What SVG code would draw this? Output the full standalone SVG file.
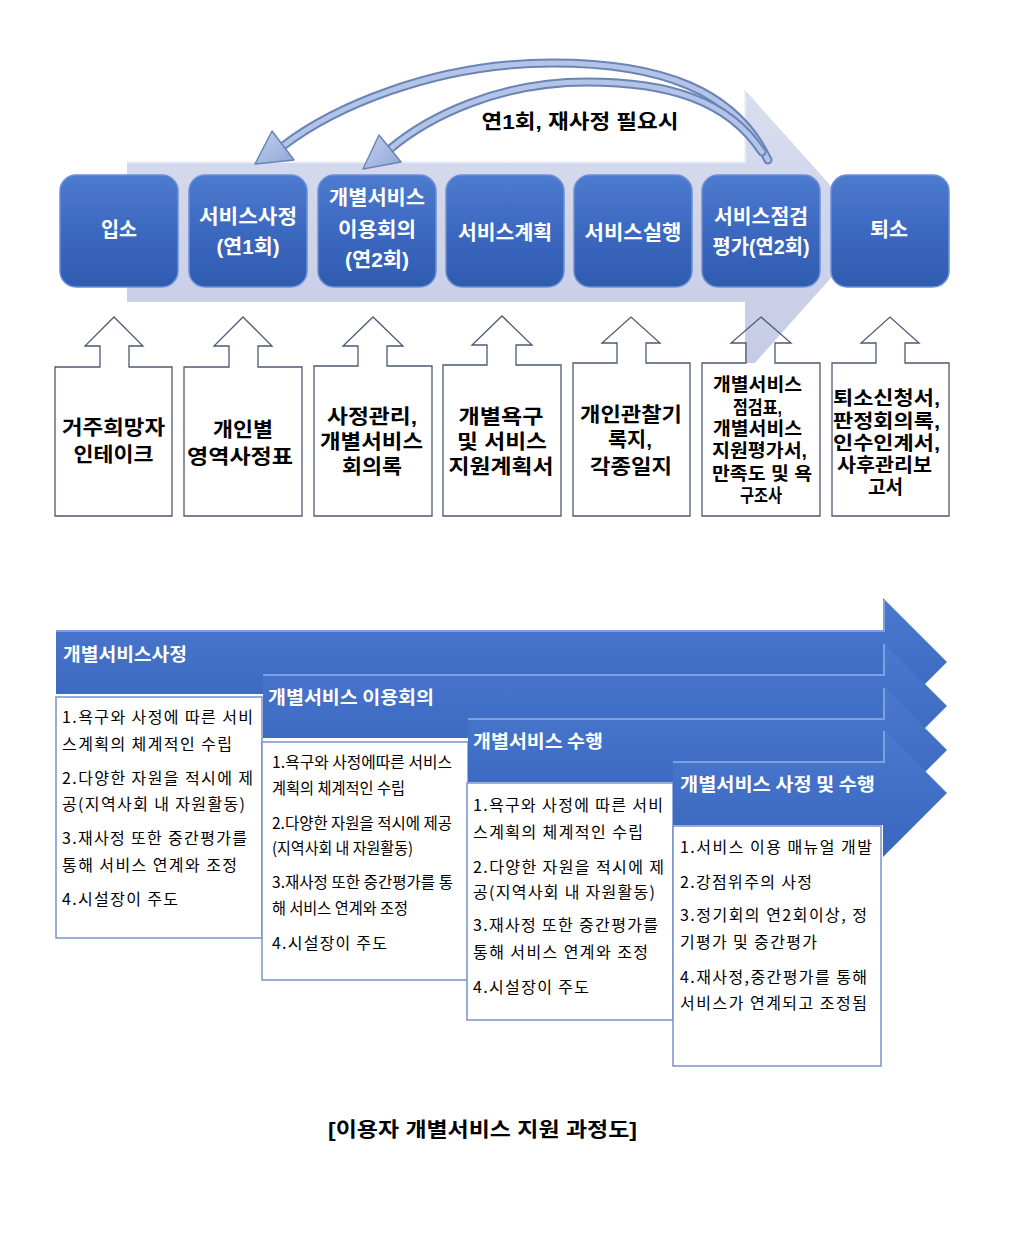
<svg xmlns="http://www.w3.org/2000/svg" width="1024" height="1242" viewBox="0 0 1024 1242">
<defs>
<linearGradient id="bigArrow" x1="0" y1="0" x2="0" y2="1">
<stop offset="0" stop-color="#d9ddef"/>
<stop offset="1" stop-color="#c5cbe5"/>
</linearGradient>
<linearGradient id="boxBlue" x1="0" y1="0" x2="0" y2="1">
<stop offset="0" stop-color="#4d7bcf"/>
<stop offset="0.5" stop-color="#3c69c0"/>
<stop offset="1" stop-color="#2f5bb0"/>
</linearGradient>
<linearGradient id="chev" x1="0" y1="0" x2="0" y2="1">
<stop offset="0" stop-color="#4a79cf"/>
<stop offset="1" stop-color="#3866bd"/>
</linearGradient>
<linearGradient id="head" x1="0" y1="0" x2="1" y2="1">
<stop offset="0" stop-color="#c3d1ee"/>
<stop offset="1" stop-color="#8ea6d6"/>
</linearGradient>
<style>
.node rect.rb{fill:url(#boxBlue);stroke:#6a90d8;stroke-width:1.5}
.wt{font-family:"Liberation Sans","Noto Sans CJK KR",sans-serif;font-weight:700;font-size:20px;fill:#ffffff;text-anchor:middle}
.bt{font-family:"Liberation Sans","Noto Sans CJK KR",sans-serif;font-weight:700;fill:#000000;text-anchor:middle}
.doc{fill:none;stroke:#4b5a72;stroke-width:1.3}
.docbg{fill:#ffffff}
.chev{fill:url(#chev)}
.chevhl{fill:none;stroke:#7ea0e2;stroke-width:2}
.tb{fill:#ffffff;stroke:#7893c8;stroke-width:1.5}
.hd{font-family:"Noto Sans CJK KR","Noto Sans",sans-serif;font-weight:700;font-size:18px;fill:#ffffff}
.tx{font-family:"Noto Sans CJK KR","Noto Sans",sans-serif;font-size:16px;fill:#000000}
.arcd{fill:none;stroke:#6a84b8;stroke-width:9;stroke-linecap:round}
.arcl{fill:none;stroke:#b3c4e6;stroke-width:5;stroke-linecap:round}
.ahd{fill:url(#head);stroke:#6a84b8;stroke-width:1.5;stroke-linejoin:round}
</style>
</defs>
<rect width="1024" height="1242" fill="#ffffff"/>

<!-- big light process arrow -->
<g id="process-arrow">
<path d="M127,162 H745 V90 L872,232 L745,374 V302 H127 Z" fill="url(#bigArrow)"/>
<path d="M127,162 H745 V90" fill="none" stroke="#eef0f8" stroke-width="2"/>
</g>

<!-- top process nodes -->
<g id="n-ipso" class="node"><rect class="rb" x="60" y="175" width="118" height="112" rx="16"/><text class="wt" x="119" y="237" textLength="36" lengthAdjust="spacingAndGlyphs">입소</text></g>
<g id="n-sajeong" class="node"><rect class="rb" x="189" y="175" width="118" height="112" rx="16"/><text class="wt" x="248" y="224" textLength="98" lengthAdjust="spacingAndGlyphs">서비스사정</text><text class="wt" x="248" y="254" textLength="63" lengthAdjust="spacingAndGlyphs">(연1회)</text></g>
<g id="n-iyong" class="node"><rect class="rb" x="318" y="175" width="118" height="112" rx="16"/><text class="wt" x="377" y="205" textLength="96" lengthAdjust="spacingAndGlyphs">개별서비스</text><text class="wt" x="377" y="237" textLength="78" lengthAdjust="spacingAndGlyphs">이용회의</text><text class="wt" x="377" y="267" textLength="64" lengthAdjust="spacingAndGlyphs">(연2회)</text></g>
<g id="n-gyehoek" class="node"><rect class="rb" x="446" y="175" width="118" height="112" rx="16"/><text class="wt" x="505" y="240" textLength="94" lengthAdjust="spacingAndGlyphs">서비스계획</text></g>
<g id="n-silhaeng" class="node"><rect class="rb" x="574" y="175" width="118" height="112" rx="16"/><text class="wt" x="633" y="240" textLength="97" lengthAdjust="spacingAndGlyphs">서비스실행</text></g>
<g id="n-jeomgeom" class="node"><rect class="rb" x="702" y="175" width="118" height="112" rx="16"/><text class="wt" x="761" y="224" textLength="94" lengthAdjust="spacingAndGlyphs">서비스점검</text><text class="wt" x="761" y="254" textLength="97" lengthAdjust="spacingAndGlyphs">평가(연2회)</text></g>
<g id="n-toeso" class="node"><rect class="rb" x="831" y="175" width="118" height="112" rx="16"/><text class="wt" x="889" y="237" textLength="38" lengthAdjust="spacingAndGlyphs">퇴소</text></g>

<!-- feedback arcs -->
<g id="connectors">
<path class="arcd" d="M768,160 C735,90 660,63 553,63 C430,63 330,110 283,146"/>
<path class="arcl" d="M768,160 C735,90 660,63 553,63 C430,63 330,110 283,146"/>
<polygon class="ahd" points="255,164 272,131 294,160"/>
<path class="arcd" d="M762,152 C728,100 668,82 587,82 C498,82 428,117 390,149"/>
<path class="arcl" d="M762,152 C728,100 668,82 587,82 C498,82 428,117 390,149"/>
<polygon class="ahd" points="363,169 379,135 401,162"/>
<text class="bt" font-size="20" x="580" y="129" textLength="197" lengthAdjust="spacingAndGlyphs">연1회, 재사정 필요시</text>
</g>

<!-- document callouts -->
<g id="d1"><rect class="docbg" x="55" y="367" width="117" height="149"/><path class="doc" d="M55,367 H100 V346 H85 L114,317 L143,346 H129 V367 H172 V516 H55 Z"/>
<text class="bt" font-size="20.5" x="113.5" y="435" textLength="103" lengthAdjust="spacingAndGlyphs">거주희망자</text><text class="bt" font-size="20.5" x="113.5" y="462" textLength="80" lengthAdjust="spacingAndGlyphs">인테이크</text></g>
<g id="d2"><rect class="docbg" x="184" y="367" width="118" height="149"/><path class="doc" d="M184,367 H229 V346 H214 L243,317 L272,346 H258 V367 H302 V516 H184 Z"/>
<text class="bt" font-size="20.5" x="243" y="437" textLength="60" lengthAdjust="spacingAndGlyphs">개인별</text><text class="bt" font-size="20.5" x="240" y="464" textLength="106" lengthAdjust="spacingAndGlyphs">영역사정표</text></g>
<g id="d3"><rect class="docbg" x="314" y="366" width="118" height="150"/><path class="doc" d="M314,366 H358 V346 H343 L373,317 L403,346 H387 V366 H432 V516 H314 Z"/>
<text class="bt" font-size="20.5" x="372" y="424" textLength="90" lengthAdjust="spacingAndGlyphs">사정관리,</text><text class="bt" font-size="20.5" x="371.5" y="449" textLength="103" lengthAdjust="spacingAndGlyphs">개별서비스</text><text class="bt" font-size="20.5" x="372" y="474" textLength="60" lengthAdjust="spacingAndGlyphs">회의록</text></g>
<g id="d4"><rect class="docbg" x="443" y="365" width="118" height="151"/><path class="doc" d="M443,365 H487 V345 H472 L502,316 L532,345 H516 V365 H561 V516 H443 Z"/>
<text class="bt" font-size="20.5" x="501" y="424" textLength="85" lengthAdjust="spacingAndGlyphs">개별욕구</text><text class="bt" font-size="20.5" x="502" y="449" textLength="90" lengthAdjust="spacingAndGlyphs">및 서비스</text><text class="bt" font-size="20.5" x="501" y="474" textLength="105" lengthAdjust="spacingAndGlyphs">지원계획서</text></g>
<g id="d5"><rect class="docbg" x="573" y="363" width="117" height="153"/><path class="doc" d="M573,363 H617 V343 H602 L631,317 L660,343 H646 V363 H690 V516 H573 Z"/>
<text class="bt" font-size="20.5" x="631" y="422" textLength="102" lengthAdjust="spacingAndGlyphs">개인관찰기</text><text class="bt" font-size="20.5" x="630" y="447" textLength="44" lengthAdjust="spacingAndGlyphs">록지,</text><text class="bt" font-size="20.5" x="631" y="474" textLength="82" lengthAdjust="spacingAndGlyphs">각종일지</text></g>
<g id="d6"><rect class="docbg" x="702" y="363" width="118" height="153"/><path class="doc" d="M702,363 H746 V343 H731 L761,317 L791,343 H775 V363 H820 V516 H702 Z"/>
<text class="bt" font-size="18" x="757.5" y="391" textLength="89" lengthAdjust="spacingAndGlyphs">개별서비스</text><text class="bt" font-size="18" x="757.5" y="413.5" textLength="49" lengthAdjust="spacingAndGlyphs">점검표,</text><text class="bt" font-size="18" x="757.5" y="435" textLength="89" lengthAdjust="spacingAndGlyphs">개별서비스</text><text class="bt" font-size="18" x="759.5" y="457" textLength="95" lengthAdjust="spacingAndGlyphs">지원평가서,</text><text class="bt" font-size="18" x="762" y="479.5" textLength="100" lengthAdjust="spacingAndGlyphs">만족도 및 욕</text><text class="bt" font-size="18" x="761" y="501.5" textLength="42" lengthAdjust="spacingAndGlyphs">구조사</text></g>
<g id="d7"><rect class="docbg" x="832" y="363" width="117" height="153"/><path class="doc" d="M832,363 H876 V343 H861 L890,317 L919,343 H905 V363 H949 V516 H832 Z"/>
<text class="bt" font-size="19" x="886.5" y="405" textLength="107" lengthAdjust="spacingAndGlyphs">퇴소신청서,</text><text class="bt" font-size="19" x="886.5" y="427.5" textLength="107" lengthAdjust="spacingAndGlyphs">판정회의록,</text><text class="bt" font-size="19" x="886.5" y="450" textLength="107" lengthAdjust="spacingAndGlyphs">인수인계서,</text><text class="bt" font-size="19" x="884.5" y="472" textLength="95" lengthAdjust="spacingAndGlyphs">사후관리보</text><text class="bt" font-size="19" x="885.5" y="494" textLength="35" lengthAdjust="spacingAndGlyphs">고서</text></g>

<!-- stage 1 -->
<g id="s1">
<path class="chev" d="M56,630 H883 V598 L947,662 L883,726 V694 H56 Z"/>
<path class="chevhl" d="M56,631 H884 V600"/>
<text class="hd" x="63" y="661" textLength="124" lengthAdjust="spacingAndGlyphs">개별서비스사정</text>
<rect class="tb" x="56" y="697" width="206" height="241"/>
<text class="tx" x="62" y="723" textLength="191" lengthAdjust="spacing">1.욕구와 사정에 따른 서비</text>
<text class="tx" x="62" y="750" textLength="170" lengthAdjust="spacing">스계획의 체계적인 수립</text>
<text class="tx" x="62" y="784" textLength="191" lengthAdjust="spacing">2.다양한 자원을 적시에 제</text>
<text class="tx" x="62" y="810" textLength="183" lengthAdjust="spacing">공(지역사회 내 자원활동)</text>
<text class="tx" x="62" y="844" textLength="185" lengthAdjust="spacing">3.재사정 또한 중간평가를</text>
<text class="tx" x="62" y="871" textLength="175" lengthAdjust="spacing">통해 서비스 연계와 조정</text>
<text class="tx" x="62" y="905" textLength="116" lengthAdjust="spacing">4.시설장이 주도</text>
</g>

<!-- stage 2 -->
<g id="s2">
<path class="chev" d="M263,674 H883 V642 L947,706 L883,770 V738 H263 Z"/>
<path class="chevhl" d="M263,675 H884 V644"/>
<text class="hd" x="268" y="704" textLength="166" lengthAdjust="spacingAndGlyphs">개별서비스 이용회의</text>
<rect class="tb" x="262" y="742" width="206" height="238"/>
<text class="tx" x="272" y="768" textLength="180" lengthAdjust="spacingAndGlyphs">1.욕구와 사정에따른 서비스</text>
<text class="tx" x="272" y="794" textLength="133" lengthAdjust="spacingAndGlyphs">계획의 체계적인 수립</text>
<text class="tx" x="272" y="829" textLength="180" lengthAdjust="spacingAndGlyphs">2.다양한 자원을 적시에 제공</text>
<text class="tx" x="272" y="854" textLength="141" lengthAdjust="spacingAndGlyphs">(지역사회 내 자원활동)</text>
<text class="tx" x="272" y="888" textLength="181" lengthAdjust="spacingAndGlyphs">3.재사정 또한 중간평가를 통</text>
<text class="tx" x="272" y="914" textLength="136" lengthAdjust="spacingAndGlyphs">해 서비스 연계와 조정</text>
<text class="tx" x="272" y="949" textLength="115" lengthAdjust="spacing">4.시설장이 주도</text>
</g>

<!-- stage 3 -->
<g id="s3">
<path class="chev" d="M468,718 H883 V686 L947,750 L883,814 V782 H468 Z"/>
<path class="chevhl" d="M468,719 H884 V688"/>
<text class="hd" x="473" y="748" textLength="130" lengthAdjust="spacingAndGlyphs">개별서비스 수행</text>
<rect class="tb" x="467" y="783" width="206" height="237"/>
<text class="tx" x="473" y="811" textLength="190" lengthAdjust="spacing">1.욕구와 사정에 따른 서비</text>
<text class="tx" x="473" y="838" textLength="170" lengthAdjust="spacing">스계획의 체계적인 수립</text>
<text class="tx" x="473" y="873" textLength="191" lengthAdjust="spacing">2.다양한 자원을 적시에 제</text>
<text class="tx" x="473" y="898" textLength="182" lengthAdjust="spacing">공(지역사회 내 자원활동)</text>
<text class="tx" x="473" y="931" textLength="185" lengthAdjust="spacing">3.재사정 또한 중간평가를</text>
<text class="tx" x="473" y="958" textLength="175" lengthAdjust="spacing">통해 서비스 연계와 조정</text>
<text class="tx" x="473" y="993" textLength="116" lengthAdjust="spacing">4.시설장이 주도</text>
</g>

<!-- stage 4 -->
<g id="s4">
<path class="chev" d="M673,761 H883 V729 L947,793 L883,857 V825 H673 Z"/>
<path class="chevhl" d="M673,762 H884 V731"/>
<text class="hd" x="680" y="791" textLength="195" lengthAdjust="spacingAndGlyphs">개별서비스 사정 및 수행</text>
<rect class="tb" x="673" y="826" width="208" height="240"/>
<text class="tx" x="680" y="853" textLength="192" lengthAdjust="spacing">1.서비스 이용 매뉴얼 개발</text>
<text class="tx" x="680" y="888" textLength="132" lengthAdjust="spacing">2.강점위주의 사정</text>
<text class="tx" x="680" y="921" textLength="187" lengthAdjust="spacing">3.정기회의 연2회이상, 정</text>
<text class="tx" x="680" y="948" textLength="137" lengthAdjust="spacing">기평가 및 중간평가</text>
<text class="tx" x="680" y="983" textLength="187" lengthAdjust="spacing">4.재사정,중간평가를 통해</text>
<text class="tx" x="680" y="1009" textLength="187" lengthAdjust="spacing">서비스가 연계되고 조정됨</text>
</g>

<text class="bt" font-size="20" x="482.5" y="1137" textLength="309" lengthAdjust="spacingAndGlyphs">[이용자 개별서비스 지원 과정도]</text>
</svg>
